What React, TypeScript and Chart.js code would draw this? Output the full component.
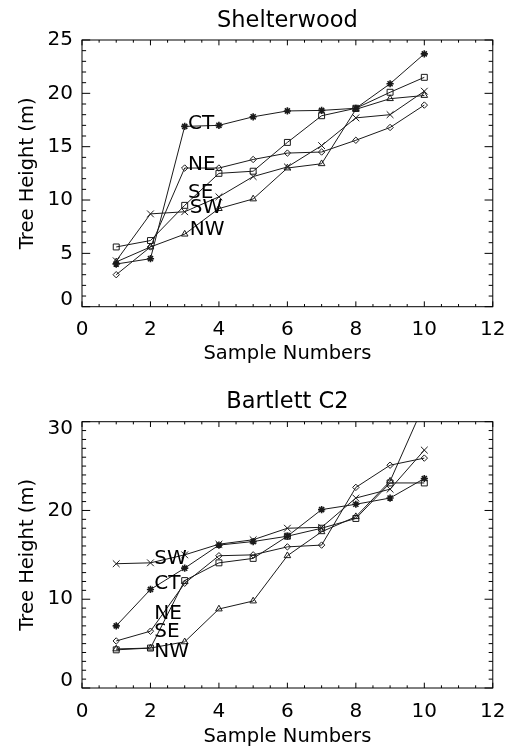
import React, { useEffect, useRef } from 'react';
import { Chart, registerables } from 'chart.js';

Chart.register(...registerables);

const FONT = 'DejaVu Sans';

// Shared
const samples = [1, 2, 3, 4, 5, 6, 7, 8, 9, 10];
const seriesNames = ['CT', 'NE', 'SE', 'SW', 'NW'];
const xMin = 0;
const xMax = 12;
const xStep = 2;

// Shelterwood (top panel)
const shelterCT = [4.0, 4.5, 16.9, 17.0, 17.8, 18.35, 18.4, 18.6, 20.9, 23.7];
const shelterNE = [3.0, 5.6, 13.0, 13.0, 13.8, 14.4, 14.5, 15.6, 16.8, 18.9];
const shelterSE = [5.6, 6.2, 9.5, 12.5, 12.7, 15.4, 17.9, 18.6, 20.1, 21.5];
const shelterSW = [4.3, 8.7, 8.9, 10.3, 12.2, 13.1, 15.1, 17.7, 18.0, 20.2];
const shelterNW = [4.2, 5.6, 6.8, 9.2, 10.1, 13.0, 13.4, 18.5, 19.5, 19.8];
const shelterLabelX = [3.1, 3.1, 3.1, 3.15, 3.15];
const shelterLabelY = [16.7, 12.8, 10.2, 8.8, 6.7];
const shelterYMax = 25;
const shelterYStep = 5;

// Bartlett C2 (bottom panel)
const bartlettCT = [7.0, 11.1, 13.5, 16.1, 16.5, 17.1, 20.1, 20.7, 21.4, 23.6];
const bartlettNE = [5.3, 6.4, 11.8, 14.9, 15.0, 15.9, 16.1, 22.6, 25.1, 25.9];
const bartlettSE = [4.3, 4.5, 12.1, 14.1, 14.6, 17.1, 18.0, 19.1, 23.1, 23.1];
const bartlettSW = [14.0, 14.1, 15.0, 16.2, 16.7, 18.0, 18.1, 21.4, 22.4, 26.8];
const bartlettNW = [4.4, 4.5, 5.2, 8.9, 9.8, 14.9, 17.6, 19.3, 23.3, 32.0];
const bartlettLabelX = [2.11, 2.11, 2.11, 2.11, 2.11];
const bartlettLabelY = [11.1, 7.75, 5.8, 14.0, 3.5];
const bartlettYMax = 30;
const bartlettYStep = 10;

const pointStyles = ['star', 'rectRot', 'rect', 'crossRot', 'triangle'];
const pointRadii = [3.6, 3.2, 4.2, 4.8, 3.8];
const pointWidths = [1.6, 1, 1, 1, 1];

const framePlugin = {
  id: 'idlFrame',
  afterDatasetsDraw(chart: any) {
    const { ctx, chartArea: a, scales } = chart;
    const xs = scales.x;
    const ys = scales.y;
    const yStep = chart.options.plugins.idlFrame.yStep;
    ctx.save();
    ctx.strokeStyle = '#000';
    ctx.lineWidth = 1;
    ctx.strokeRect(a.left, a.top, a.right - a.left, a.bottom - a.top);
    const h = a.bottom - a.top;
    const w = a.right - a.left;
    ctx.beginPath();
    for (let v = xs.min; v <= xs.max + 1e-9; v += 0.5) {
      const px = xs.getPixelForValue(v);
      const major = Math.abs(v / xStep - Math.round(v / xStep)) < 1e-6;
      const len = major ? h * 0.02 : h * 0.01;
      ctx.moveTo(px, a.bottom);
      ctx.lineTo(px, a.bottom - len);
      ctx.moveTo(px, a.top);
      ctx.lineTo(px, a.top + len);
    }
    for (let v = ys.min; v <= ys.max + 1e-9; v += 1) {
      const py = ys.getPixelForValue(v);
      const major = Math.abs(v / yStep - Math.round(v / yStep)) < 1e-6;
      const len = major ? w * 0.02 : w * 0.01;
      ctx.moveTo(a.left, py);
      ctx.lineTo(a.left + len, py);
      ctx.moveTo(a.right, py);
      ctx.lineTo(a.right - len, py);
    }
    ctx.stroke();
    ctx.restore();
  },
};

const labelPlugin = {
  id: 'seriesLabels',
  afterDatasetsDraw(chart: any) {
    const o = chart.options.plugins.seriesLabels;
    const { ctx, scales } = chart;
    ctx.save();
    ctx.fillStyle = '#000';
    ctx.font = `20px "${FONT}"`;
    ctx.textAlign = 'left';
    ctx.textBaseline = 'alphabetic';
    o.names.forEach((n: string, i: number) => {
      ctx.fillText(n, scales.x.getPixelForValue(o.xs[i]), scales.y.getPixelForValue(o.ys[i]));
    });
    ctx.restore();
  },
};

type PanelProps = {
  top: number;
  height: number;
  title: string;
  series: number[][];
  labelX: number[];
  labelY: number[];
  yMax: number;
  yStep: number;
  areaTop: number;
  areaBottom: number;
  titleCenter: number;
  xTitleFromBottom: number;
  shiftTopLabel: boolean;
};

function Panel(p: PanelProps) {
  const ref = useRef<HTMLCanvasElement>(null);
  useEffect(() => {
    const titleSize = 22.5;
    const titleLH = titleSize * 1.2;
    const titlePadTop = p.titleCenter - titleLH / 2;
    const titlePadBottom = p.areaTop - titlePadTop - titleLH;
    const axisTitleLH = 19.5 * 1.2;
    const chart = new Chart(ref.current as HTMLCanvasElement, {
      type: 'line',
      data: {
        datasets: seriesNames.map((n, i) => ({
          label: n,
          data: samples.map((s, j) => ({ x: s, y: p.series[i][j] })),
          borderColor: '#1a1a1a',
          borderWidth: 1,
          pointStyle: pointStyles[i] as any,
          pointRadius: pointRadii[i],
          pointBorderWidth: pointWidths[i],
          pointBorderColor: '#1a1a1a',
          pointBackgroundColor: 'rgba(255,255,255,0)',
          fill: false,
          tension: 0,
        })),
      },
      options: {
        animation: false,
        responsive: false,
        maintainAspectRatio: false,
        layout: { padding: { left: 0, right: 20, top: 0, bottom: 0 } },
        plugins: {
          legend: { display: false },
          tooltip: { enabled: false },
          title: {
            display: true,
            fullSize: false,
            text: p.title,
            color: '#000',
            font: { family: FONT, size: titleSize, weight: 'normal' },
            padding: { top: titlePadTop, bottom: titlePadBottom },
          },
          idlFrame: { yStep: p.yStep },
          seriesLabels: { names: seriesNames, xs: p.labelX, ys: p.labelY },
        } as any,
        scales: {
          x: {
            type: 'linear',
            min: xMin,
            max: xMax,
            ticks: {
              stepSize: xStep,
              padding: 11.5,
              color: '#000',
              maxRotation: 0,
              autoSkip: false,
              font: { family: FONT, size: 20 },
            },
            grid: { display: false, drawTicks: false },
            border: { display: false },
            title: {
              display: true,
              text: 'Sample Numbers',
              color: '#000',
              font: { family: FONT, size: 19.5 },
              padding: { top: 0, bottom: p.xTitleFromBottom - axisTitleLH / 2 },
            },
            afterFit: (s: any) => {
              s.height = p.height - p.areaBottom;
            },
          },
          y: {
            type: 'linear',
            min: 0,
            max: p.yMax,
            ticks: {
              stepSize: p.yStep,
              padding: 9,
              color: '#000',
              font: { family: FONT, size: 20, lineHeight: 0.7 },
              callback: (v: any) => {
                if (v === 0) return ['0', ''];
                if (p.shiftTopLabel && v === p.yMax) return ['', String(v)];
                return String(v);
              },
            },
            grid: { display: false, drawTicks: false },
            border: { display: false },
            title: {
              display: true,
              text: 'Tree Height (m)',
              color: '#000',
              font: { family: FONT, size: 19.5 },
              padding: { top: 16, bottom: 0 },
            },
            afterFit: (s: any) => {
              s.width = 82;
            },
          },
        },
      } as any,
      plugins: [framePlugin, labelPlugin],
    });
    return () => chart.destroy();
  }, []);
  return (
    <canvas
      ref={ref}
      width={517}
      height={p.height}
      style={{ position: 'absolute', left: 0, top: p.top, width: 517, height: p.height }}
    />
  );
}

export default function App() {
  return (
    <div style={{ position: 'absolute', left: 0, top: 0, width: 517, height: 749, background: '#fff' }}>
      <Panel
        top={0}
        height={374}
        title="Shelterwood"
        series={[shelterCT, shelterNE, shelterSE, shelterSW, shelterNW]}
        labelX={shelterLabelX}
        labelY={shelterLabelY}
        yMax={shelterYMax}
        yStep={shelterYStep}
        areaTop={40}
        areaBottom={306.7}
        titleCenter={20.8}
        xTitleFromBottom={20}
        shiftTopLabel={false}
      />
      <Panel
        top={374}
        height={375}
        title="Bartlett C2"
        series={[bartlettCT, bartlettNE, bartlettSE, bartlettSW, bartlettNW]}
        labelX={bartlettLabelX}
        labelY={bartlettLabelY}
        yMax={bartlettYMax}
        yStep={bartlettYStep}
        areaTop={47.7}
        areaBottom={314}
        titleCenter={27.7}
        xTitleFromBottom={12.5}
        shiftTopLabel={true}
      />
    </div>
  );
}
